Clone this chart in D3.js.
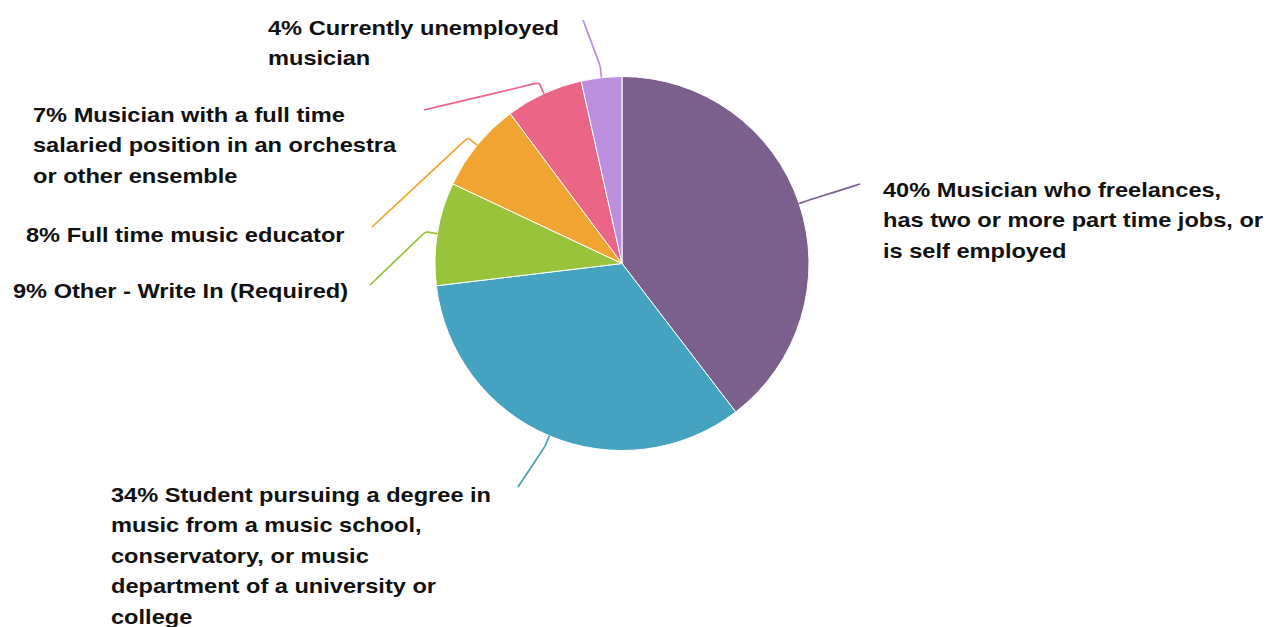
<!DOCTYPE html>
<html>
<head>
<meta charset="utf-8">
<script src="https://cdn.jsdelivr.net/npm/d3@7"></script>
<style>
  html, body { margin: 0; padding: 0; background: #ffffff; }
  svg { display: block; }
  .lbl { font-family: "Liberation Sans", Arial, sans-serif; font-weight: bold; font-size: 20px; fill: #111111; }
</style>
</head>
<body>
<svg id="chart" width="1271" height="627"></svg>
<script>
// Survey responses: current occupation (percent of respondents)
const categories = [
  "Musician who freelances, has two or more part time jobs, or is self employed",
  "Student pursuing a degree in music from a music school, conservatory, or music department of a university or college",
  "Other - Write In (Required)",
  "Full time music educator",
  "Musician with a full time salaried position in an orchestra or other ensemble",
  "Currently unemployed musician"
];
const percents = [39.6, 33.5, 8.9, 7.8, 6.7, 3.5];
// Category text after the percentage, already broken into lines
const labelLines = [
  ["Musician who freelances,", "has two or more part time jobs, or", "is self employed"],
  ["Student pursuing a degree in", "music from a music school,", "conservatory, or music", "department of a university or", "college"],
  ["Other - Write In (Required)"],
  ["Full time music educator"],
  ["Musician with a full time", "salaried position in an orchestra", "or other ensemble"],
  ["Currently unemployed", "musician"]
];
const colors = ["#7b5f8c", "#45a2c0", "#98c33b", "#f2a432", "#eb6586", "#bb8fdb"];

// Layout for labels: text origin (first baseline) and leader end point
const labelLayout = [
  { x: 883, y: 197, endX: 860, endY: 184 },
  { x: 111, y: 502, endX: 518, endY: 487 },
  { x: 13,  y: 298, endX: 370, endY: 285 },
  { x: 26,  y: 242, endX: 372, endY: 227 },
  { x: 33,  y: 122, endX: 424, endY: 110 },
  { x: 268, y: 35,  endX: 583, endY: 20 }
];

const cx = 622, cy = 263.5, radius = 187, lineStep = 30.5, textStretch = 1.18;

const svg = d3.select("#chart");
const g = svg.append("g").attr("transform", `translate(${cx},${cy})`);

const pie = d3.pie().sort(null).value(d => d.value);
const arcs = pie(percents.map((v, i) => ({ value: v, i })));
const arc = d3.arc().innerRadius(0).outerRadius(radius);
const pct = v => `${Math.round(v)}%`;

g.selectAll("path.slice")
  .data(arcs)
  .join("path")
  .attr("class", "slice")
  .attr("d", arc)
  .attr("fill", d => colors[d.data.i])
  .attr("stroke", "#ffffff")
  .attr("stroke-width", 1);

// Leader lines from slice edge to label
const leader = d3.line().curve(d3.curveBasis);
const polar = (a, r) => [r * Math.sin(a), -r * Math.cos(a)];

g.selectAll("path.leader")
  .data(arcs)
  .join("path")
  .attr("class", "leader")
  .attr("fill", "none")
  .attr("stroke", d => colors[d.data.i])
  .attr("stroke-width", 1.7)
  .attr("d", d => {
    const mid = (d.startAngle + d.endAngle) / 2;
    const L = labelLayout[d.data.i];
    const s = polar(mid, radius);
    const e = polar(mid, radius + 12);
    const t = [L.endX - cx, L.endY - cy];
    return leader([s, e, e, t]);
  });

// Labels
const labels = svg.selectAll("text.lbl")
  .data(arcs)
  .join("text")
  .attr("class", "lbl")
  .attr("transform", d => `translate(${labelLayout[d.data.i].x},${labelLayout[d.data.i].y}) scale(${textStretch},1)`);

labels.selectAll("tspan")
  .data(d => labelLines[d.data.i].map((t, k) => k === 0 ? `${pct(d.data.value)} ${t}` : t))
  .join("tspan")
  .attr("x", 0)
  .attr("dy", (d, k) => k === 0 ? 0 : lineStep)
  .text(d => d);
</script>
</body>
</html>
